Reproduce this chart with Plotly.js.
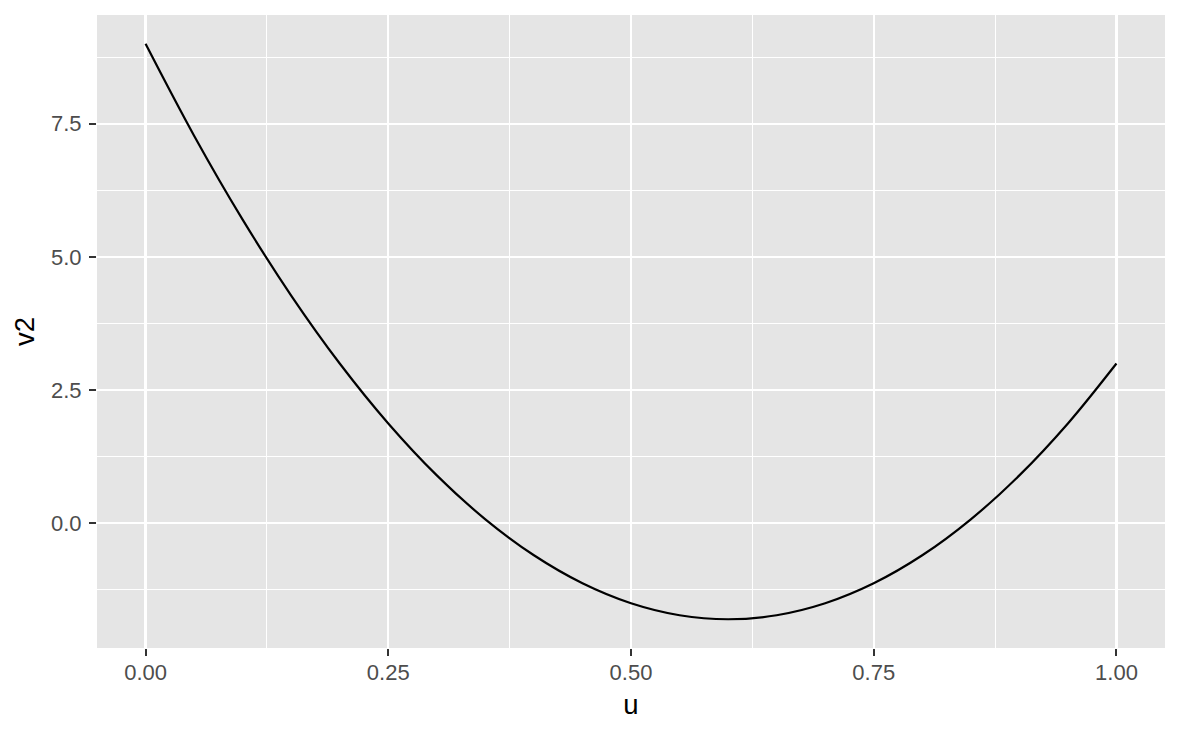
<!DOCTYPE html>
<html>
<head>
<meta charset="utf-8">
<script src="https://cdn.plot.ly/plotly-3.0.1.min.js"></script>
<style>html,body{margin:0;padding:0;background:#fff;}#chart{width:1180px;height:729px;}</style>
</head>
<body>
<div id="chart"></div>
<script>
// Values
const u  = [0, 0.05, 0.1, 0.15, 0.2, 0.25, 0.3, 0.35, 0.4, 0.45, 0.5, 0.55, 0.6, 0.65, 0.7, 0.75, 0.8, 0.85, 0.9, 0.95, 1.0];
const v2 = [9, 7.275, 5.7, 4.275, 3.0, 1.875, 0.9, 0.075, -0.6, -1.125, -1.5, -1.725, -1.8, -1.725, -1.5, -1.125, -0.6, 0.075, 0.9, 1.875, 3.0];
const xTickVals = [0, 0.25, 0.5, 0.75, 1.0];
const xTickText = ["0.00", "0.25", "0.50", "0.75", "1.00"];
const yTickVals = [0, 2.5, 5, 7.5];
const yTickText = ["0.0", "2.5", "5.0", "7.5"];
const xMinorVals = [0.125, 0.375, 0.625, 0.875];
const yMinorVals = [-1.25, 1.25, 3.75, 6.25, 8.75];

const trace = {
  x: u, y: v2, type: 'scatter', mode: 'lines',
  line: {color: '#000000', width: 2.2, shape: 'spline', smoothing: 1},
  hoverinfo: 'skip'
};

const font = 'Liberation Sans, Arial, sans-serif';
const layout = {
  width: 1180, height: 729,
  margin: {l: 97, r: 15, t: 15, b: 81},
  paper_bgcolor: '#ffffff',
  plot_bgcolor: '#e5e5e5',
  showlegend: false,
  font: {family: font},
  xaxis: {
    range: [-0.05, 1.05],
    tickmode: 'array', tickvals: xTickVals, ticktext: xTickText,
    ticks: 'outside', ticklen: 7, tickwidth: 2, tickcolor: '#333333',
    ticklabelstandoff: -2,
    tickfont: {family: font, size: 22, color: '#4d4d4d'},
    showgrid: true, gridcolor: '#ffffff', gridwidth: 2.2,
    minor: {tickmode: 'array', tickvals: xMinorVals, showgrid: true, gridcolor: '#ffffff', gridwidth: 1.1, ticks: ''},
    zeroline: false, showline: false,
    title: {text: 'u', font: {family: font, size: 27.5, color: '#000000'}, standoff: 10}
  },
  yaxis: {
    range: [-2.34, 9.54],
    tickmode: 'array', tickvals: yTickVals, ticktext: yTickText,
    ticks: 'outside', ticklen: 7, tickwidth: 2, tickcolor: '#333333',
    ticklabelstandoff: 3,
    tickfont: {family: font, size: 22, color: '#4d4d4d'},
    showgrid: true, gridcolor: '#ffffff', gridwidth: 2.2,
    minor: {tickmode: 'array', tickvals: yMinorVals, showgrid: true, gridcolor: '#ffffff', gridwidth: 1.1, ticks: ''},
    zeroline: false, showline: false,
    title: {text: 'v2', font: {family: font, size: 27.5, color: '#000000'}, standoff: 8}
  }
};

Plotly.newPlot('chart', [trace], layout, {displayModeBar: false, staticPlot: true});
</script>
</body>
</html>
